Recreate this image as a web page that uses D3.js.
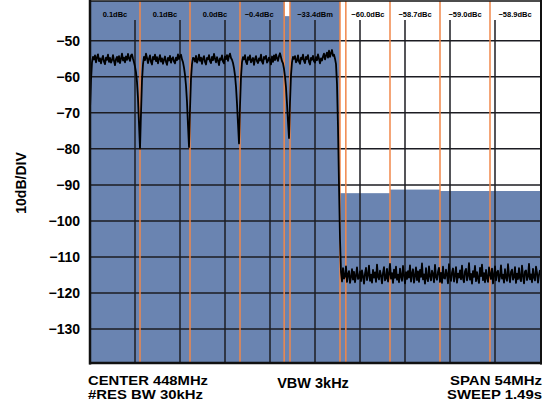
<!DOCTYPE html>
<html>
<head>
<meta charset="utf-8">
<script src="https://cdn.jsdelivr.net/npm/d3@7"></script>
<style>
  body { margin: 0; background: #fff; }
  text { font-family: "Liberation Sans", Arial, sans-serif; font-weight: bold; }
</style>
</head>
<body>
<div id="chart"></div>
<script>
const width = 548, height = 411;
const margin = { top: 1, right: 8, bottom: 48, left: 90 };

// sweep: 421 MHz .. 475 MHz (center 448, span 54)
const startMHz = 421, stopMHz = 475;
const stepMHz = 0.12;

const yTicks = [-50, -60, -70, -80, -90, -100, -110, -120, -130];

// channel edge markers (MHz)
const markerMHz = [427, 433, 439, 444.3, 445, 451, 451.7, 457, 463, 469];

// measured power per band: [from MHz, to MHz, level dB]
const bandFrom = [421, 444.3, 445, 451, 457, 463];
const bandTo = [444.3, 445, 451, 457, 463, 475];
const bandLevel = [-30, -43.2, -30, -92.3, -91.3, -91.7];

// readouts over each band
const readoutMHz = [424, 430, 436, 441.3, 448, 454.35, 460, 466, 472];
const readoutText = ["0.1dBc", "0.1dBc", "0.0dBc", "\u22120.4dBc", "\u221233.4dBm",
  "\u221260.0dBc", "\u221258.7dBc", "\u221259.0dBc", "\u221258.9dBc"];

// instrument settings printed under the plot
const leftInfo = ["CENTER 448MHz", "#RES BW 30kHz"];
const leftWidths = [120, 115];
const midInfo = "VBW 3kHz";
const rightInfo = ["SPAN 54MHz", "SWEEP 1.49s"];
const rightWidths = [92, 95];

// trace in dB, one point per 0.12 MHz from 421 MHz
const inBandDb = [
  -69, -61, -56, -54.5,
  -55.2, -54.1, -56.0, -54.6, -53.8, -55.7, -54.9, -56.3, -55.0, -54.2,
  -55.8, -56.5, -54.7, -55.3, -53.9, -55.9, -54.8, -56.1, -55.4, -54.0,
  -55.6, -56.8, -55.1, -54.5, -55.9, -54.3, -56.2, -55.0, -53.6, -55.5,
  -54.7, -56.0, -54.4, -55.3, -53.7, -54.9, -55.6, -54.1, -53.8, -55.0,
  -56.0, -57.2, -58.8, -61.5, -66, -73,
  -80,
  -70, -61, -56.5, -54.5,
  -55.4, -53.6, -54.8, -56.2, -55.0, -54.1, -55.9, -56.6, -54.5, -55.2,
  -53.9, -55.7, -54.6, -56.3, -55.1, -54.0, -55.8, -54.9, -56.4, -55.3,
  -54.4, -55.9, -56.7, -54.8, -55.5, -54.2, -56.1, -55.0, -54.6, -55.8,
  -56.3, -54.7, -55.4, -53.8, -55.1, -54.3, -53.9, -55.2,
  -56.0, -57.5, -59.5, -62.5, -67, -73.5,
  -79.5,
  -69, -60.5, -56.5, -54.8,
  -54.9, -55.8, -54.2, -56.1, -55.3, -53.9, -55.6, -54.7, -56.4, -55.0,
  -54.3, -55.9, -56.6, -54.8, -55.2, -54.0, -55.7, -56.2, -54.5, -55.4,
  -53.7, -55.0, -56.0, -54.6, -55.5, -56.8, -54.9, -55.3, -54.1, -55.8,
  -56.3, -54.4, -55.1, -54.0, -55.6, -54.2, -53.6, -54.8, -55.3,
  -56.2, -57.6, -59.6, -62.8, -67.5, -73,
  -78.5,
  -68, -60, -56, -54.6,
  -55.2, -54.0, -55.9, -56.5, -54.6, -55.3, -54.1, -56.0, -55.4, -54.8,
  -56.7, -55.1, -54.3, -55.7, -56.2, -54.9, -55.5, -53.9, -55.8, -56.4,
  -54.5, -55.0, -54.2, -56.1, -55.6, -54.7, -55.3, -56.6, -54.4, -55.9,
  -54.1, -55.4, -53.8, -54.9, -55.6, -54.3, -53.5, -54.6, -55.7,
  -56.3, -57.8, -60, -63, -67.5, -72.5,
  -77,
  -67, -59.5, -56, -54.5,
  -55.0, -54.3, -56.0, -55.5, -54.1, -55.8, -56.4, -54.7, -55.2, -53.9,
  -55.6, -56.2, -54.5, -55.1, -54.0, -55.9, -56.6, -54.8, -55.3, -54.2,
  -55.7, -56.1, -54.6, -55.4, -53.8, -55.0, -56.3, -54.9, -55.5, -54.4,
  -53.6, -55.2, -54.1, -53.3, -54.7, -52.8, -54.5, -53.4, -52.6, -54.2,
  -53.9, -55.0,
  -56.5, -62, -74, -90, -105
];

const outBandDb = [
  -114.2, -116.8, -113.1, -116.0, -115.4, -112.6, -116.9, -114.8, -113.9, -117.2,
  -115.6, -113.4, -116.3, -114.1, -117.0, -115.2, -112.9, -116.1, -115.8, -114.0,
  -116.7, -113.7, -115.3, -117.4, -114.6, -113.0, -116.4, -115.0, -112.4, -116.6,
  -114.9, -117.1, -113.6, -115.7, -114.3, -116.9, -112.1, -115.5, -116.2, -113.8,
  -115.1, -117.3, -114.4, -112.8, -116.5, -115.9, -113.3, -116.8, -114.7, -111.9,
  -116.0, -114.5, -117.2, -113.5, -115.8, -112.7, -116.3, -114.9, -117.0, -113.2,
  -115.4, -116.6, -112.5, -115.0, -117.3, -114.2, -116.1, -113.9, -115.7, -112.3,
  -116.8, -114.6, -113.4, -117.1, -115.2, -112.9, -116.4, -114.0, -116.9, -113.6,
  -115.5, -111.8, -116.2, -114.8, -117.4, -113.1, -115.9, -116.7, -112.6, -115.3,
  -116.5, -113.8, -114.7, -117.0, -112.2, -115.6, -116.3, -114.1, -113.0, -116.9,
  -114.4, -117.2, -112.7, -115.8, -116.0, -113.5, -114.9, -117.3, -112.0, -115.4,
  -116.6, -114.3, -113.2, -116.8, -115.1, -112.8, -117.1, -114.6, -115.7, -113.7,
  -116.2, -112.4, -115.9, -117.0, -114.0, -113.3, -116.5, -115.2, -111.7, -116.3,
  -114.7, -117.4, -113.9, -115.5, -112.5, -116.7, -114.2, -115.9, -117.2, -113.0,
  -115.3, -112.1, -116.4, -114.5, -117.0, -113.6, -115.8, -116.9, -112.9, -114.8,
  -116.1, -113.2, -117.3, -115.0, -112.6, -116.5, -114.3, -113.8, -116.8, -115.4,
  -112.3, -116.0, -114.9, -117.1, -113.4, -115.7, -116.6, -112.0, -115.1, -117.0,
  -114.1, -113.5, -116.3, -115.6, -112.8, -117.2, -114.6, -116.1, -113.1, -115.9,
  -116.7, -112.4, -115.2, -117.3, -114.0, -113.7, -116.4, -115.5, -111.9, -116.2,
  -114.8, -117.0, -113.3, -115.7, -116.5, -112.7, -114.4, -117.1, -115.0, -113.6
];

const trace = inBandDb.concat(outBandDb).map((db, i) => ({ f: startMHz + i * stepMHz, db }));

const svg = d3.select("#chart")
  .append("svg")
  .attr("width", width)
  .attr("height", height);

const x = d3.scaleLinear()
  .domain([startMHz, stopMHz])
  .range([margin.left, width - margin.right]);

const y = d3.scaleLinear()
  .domain([-139.4, -39])
  .range([height - margin.bottom, margin.top]);

const plotTop = margin.top, plotBottom = height - margin.bottom;
const clampY = v => Math.max(plotTop, y(v));

// band power fill
svg.append("g")
  .selectAll("rect")
  .data(bandLevel)
  .join("rect")
  .attr("x", (d, i) => x(bandFrom[i]))
  .attr("width", (d, i) => x(bandTo[i]) - x(bandFrom[i]))
  .attr("y", d => clampY(d))
  .attr("height", d => plotBottom - clampY(d))
  .attr("fill", "#6a84b1");

// horizontal grid
svg.append("g")
  .selectAll("line")
  .data(yTicks)
  .join("line")
  .attr("x1", x(startMHz))
  .attr("x2", x(stopMHz))
  .attr("y1", d => y(d))
  .attr("y2", d => y(d))
  .attr("stroke", "#1c1c22")
  .attr("stroke-width", 1.5);

// vertical grid, 10 divisions
const divs = d3.range(1, 10).map(k => startMHz + k * (stopMHz - startMHz) / 10);
svg.append("g")
  .selectAll("line")
  .data(divs)
  .join("line")
  .attr("x1", d => x(d))
  .attr("x2", d => x(d))
  .attr("y1", 20)
  .attr("y2", plotBottom)
  .attr("stroke", "#1c1c22")
  .attr("stroke-width", 1.5);

// channel markers
svg.append("g")
  .selectAll("line")
  .data(markerMHz)
  .join("line")
  .attr("x1", d => x(d))
  .attr("x2", d => x(d))
  .attr("y1", plotTop)
  .attr("y2", plotBottom)
  .attr("stroke", "#f0874a")
  .attr("stroke-width", 1.5);

// trace
svg.append("path")
  .datum(trace)
  .attr("fill", "none")
  .attr("stroke", "#000")
  .attr("stroke-width", 1.8)
  .attr("stroke-linejoin", "round")
  .attr("d", d3.line().x(d => x(d.f)).y(d => y(d.db)));

// frame
const frame = svg.append("g").attr("stroke", "#111");
frame.append("line").attr("x1", 89).attr("x2", 542).attr("y1", 1).attr("y2", 1).attr("stroke-width", 1.5);
frame.append("line").attr("x1", 90).attr("x2", 90).attr("y1", 0).attr("y2", 364.5).attr("stroke-width", 2.5);
frame.append("line").attr("x1", 89).attr("x2", 542).attr("y1", 363).attr("y2", 363).attr("stroke-width", 2.5);
frame.append("line").attr("x1", 541).attr("x2", 541).attr("y1", 0).attr("y2", 364.5).attr("stroke-width", 2);

// readouts
svg.append("g")
  .selectAll("text")
  .data(readoutText)
  .join("text")
  .attr("x", (d, i) => x(readoutMHz[i]))
  .attr("y", 16.5)
  .attr("text-anchor", "middle")
  .style("font-size", "7.5px")
  .text(d => d);

// y axis
const yAxis = svg.append("g")
  .attr("transform", `translate(${margin.left},0)`)
  .call(d3.axisLeft(y).tickValues(yTicks).tickSize(0).tickPadding(10));
yAxis.select(".domain").remove();
yAxis.selectAll("text")
  .style("font-size", "14px")
  .style("font-family", "'Liberation Sans', Arial, sans-serif")
  .style("font-weight", "bold")
  .attr("fill", "#000");

svg.append("text")
  .attr("transform", "translate(26,183) rotate(-90)")
  .attr("text-anchor", "middle")
  .style("font-size", "14px")
  .text("10dB/DIV");

// bottom settings
const info = svg.append("g");

info.selectAll(".left")
  .data(leftInfo)
  .join("text")
  .attr("class", "left")
  .attr("x", 88)
  .attr("y", (d, i) => 384.5 + i * 14.5)
  .attr("textLength", (d, i) => leftWidths[i])
  .attr("lengthAdjust", "spacingAndGlyphs")
  .style("font-size", "13px")
  .text(d => d);

info.append("text")
  .attr("x", 313)
  .attr("y", 388)
  .attr("text-anchor", "middle")
  .style("font-size", "14.5px")
  .text(midInfo);

info.selectAll(".right")
  .data(rightInfo)
  .join("text")
  .attr("class", "right")
  .attr("x", (d, i) => 542 - rightWidths[i])
  .attr("y", (d, i) => 384.5 + i * 14.5)
  .attr("textLength", (d, i) => rightWidths[i])
  .attr("lengthAdjust", "spacingAndGlyphs")
  .style("font-size", "13px")
  .text(d => d);
</script>
</body>
</html>
